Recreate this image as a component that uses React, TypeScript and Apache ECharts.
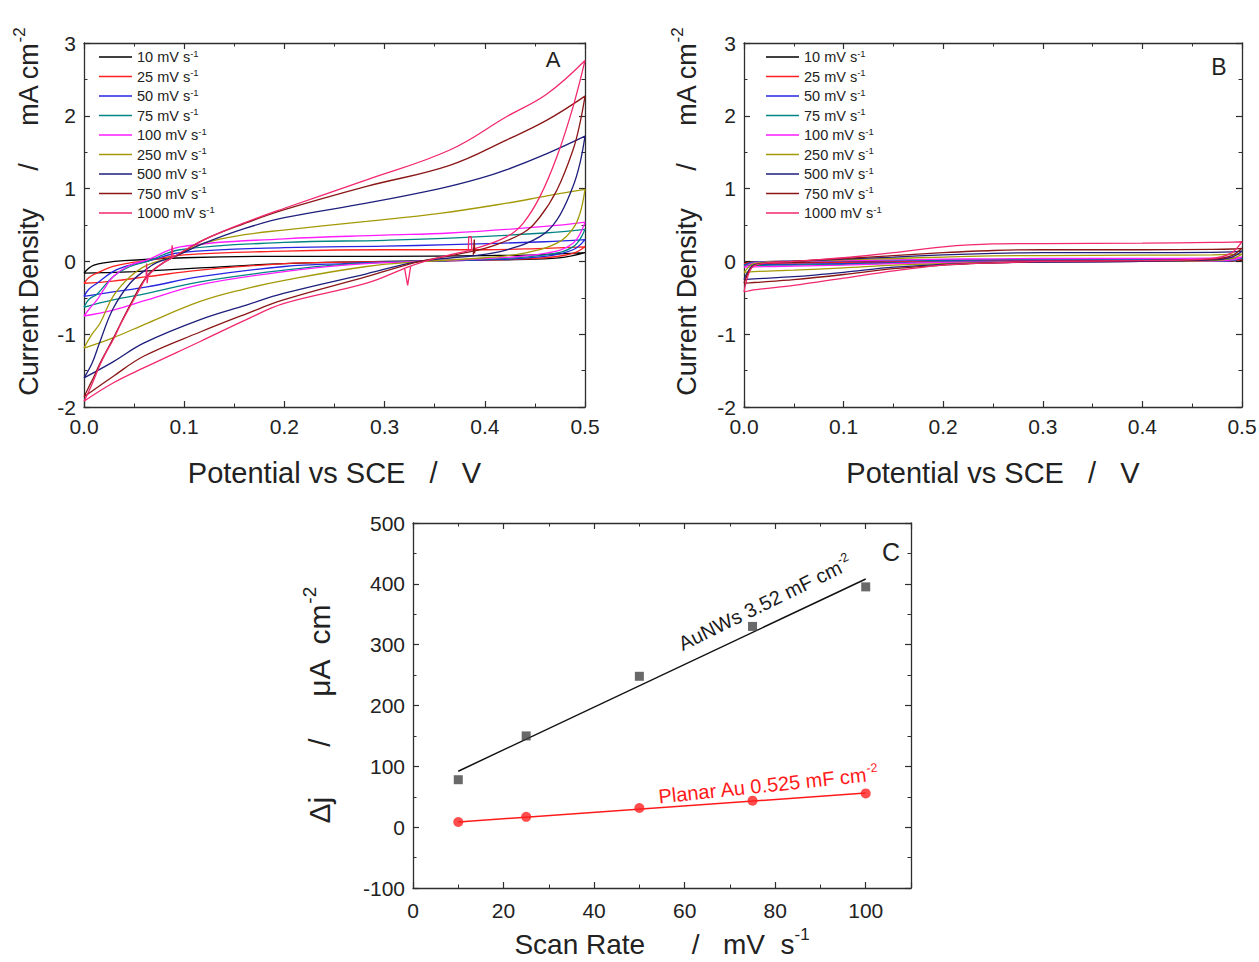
import React, { useEffect, useRef } from 'react';
import * as echarts from 'echarts';

const FONT = 'Arial, "Liberation Sans", Helvetica, sans-serif';
const INK = '#222222';
const AX = '#2e2e2e';

// ---------- Panel A & B: scan rates (mV/s) ----------
const scanRates = ['10', '25', '50', '75', '100', '250', '500', '750', '1000'];
const rateColors = ['#000000', '#ff2020', '#2626e0', '#008484', '#ff1cff', '#a49a08', '#1e1e7c', '#8a1616', '#f2286e'];

// Panel A: AuNWs CV loops [potential V, current density mA cm-2] (anodic then cathodic)
const cvA10 = [[0, -0.16], [0.005, -0.09], [0.01, -0.05], [0.02, -0.02], [0.04, 0.01], [0.1, 0.05], [0.2, 0.07], [0.3, 0.07], [0.4, 0.08], [0.45, 0.09], [0.5, 0.12],
  [0.48, 0.06], [0.45, 0.03], [0.4, 0.02], [0.3, 0.0], [0.2, -0.03], [0.116, -0.09], [0.05, -0.14], [0.02, -0.155], [0, -0.16]];
const cvA25 = [[0, -0.3], [0.005, -0.22], [0.013, -0.16], [0.029, -0.07], [0.046, -0.02], [0.063, 0.01], [0.1, 0.09], [0.2, 0.14], [0.3, 0.16], [0.4, 0.16], [0.46, 0.18], [0.5, 0.2],
  [0.488, 0.11], [0.46, 0.05], [0.4, 0.02], [0.33, 0.0], [0.26, -0.01], [0.2, -0.03], [0.116, -0.12], [0.063, -0.21], [0.029, -0.27], [0, -0.3]];
const cvA50 = [[0, -0.48], [0.005, -0.38], [0.013, -0.3], [0.029, -0.14], [0.046, -0.05], [0.063, 0.0], [0.096, 0.12], [0.2, 0.19], [0.3, 0.21], [0.365, 0.23], [0.46, 0.27], [0.5, 0.3],
  [0.488, 0.16], [0.46, 0.07], [0.4, 0.02], [0.33, 0.0], [0.26, -0.03], [0.2, -0.07], [0.116, -0.21], [0.063, -0.35], [0.029, -0.42], [0, -0.48]];
const cvA75 = [[0, -0.63], [0.005, -0.52], [0.013, -0.45], [0.029, -0.21], [0.046, -0.07], [0.063, 0.0], [0.096, 0.16], [0.2, 0.26], [0.3, 0.29], [0.365, 0.32], [0.46, 0.39], [0.5, 0.44],
  [0.488, 0.2], [0.46, 0.09], [0.4, 0.03], [0.33, 0.0], [0.26, -0.04], [0.2, -0.12], [0.116, -0.28], [0.063, -0.44], [0.029, -0.53], [0, -0.63]];
const cvA100 = [[0, -0.75], [0.006, -0.64], [0.013, -0.53], [0.02, -0.38], [0.029, -0.21], [0.046, -0.05], [0.063, 0.02], [0.096, 0.2], [0.2, 0.31], [0.3, 0.36], [0.365, 0.39], [0.46, 0.48], [0.5, 0.54],
  [0.488, 0.25], [0.46, 0.11], [0.4, 0.04], [0.33, 0.0], [0.26, -0.05], [0.2, -0.14], [0.116, -0.32], [0.063, -0.53], [0.029, -0.67], [0, -0.75]];
const cvA250 = [[0, -1.19], [0.008, -1.0], [0.016, -0.85], [0.029, -0.48], [0.046, -0.21], [0.063, -0.05], [0.09, 0.07], [0.12, 0.25], [0.162, 0.37], [0.199, 0.43], [0.282, 0.55], [0.355, 0.66], [0.422, 0.8], [0.462, 0.9], [0.5, 0.99],
  [0.495, 0.66], [0.488, 0.45], [0.472, 0.25], [0.438, 0.11], [0.4, 0.05], [0.34, 0.0], [0.282, -0.07], [0.2, -0.26], [0.16, -0.38], [0.116, -0.55], [0.063, -0.85], [0.029, -1.05], [0, -1.19]];
const cvA500 = [[0, -1.6], [0.008, -1.4], [0.016, -1.1], [0.029, -0.65], [0.046, -0.3], [0.063, -0.1], [0.072, -0.02], [0.091, 0.07], [0.12, 0.25], [0.16, 0.45], [0.2, 0.6], [0.282, 0.8], [0.355, 1.0], [0.395, 1.14], [0.422, 1.26], [0.462, 1.48], [0.5, 1.72],
  [0.495, 1.35], [0.488, 1.03], [0.472, 0.57], [0.455, 0.34], [0.422, 0.16], [0.39, 0.08], [0.335, 0.0], [0.282, -0.17], [0.199, -0.44], [0.162, -0.6], [0.116, -0.8], [0.06, -1.12], [0.029, -1.38], [0, -1.6]];
const cvA750 = [[0, -1.86], [0.005, -1.72], [0.01, -1.58], [0.016, -1.4], [0.029, -1.06], [0.046, -0.6], [0.063, -0.2], [0.079, -0.02], [0.091, 0.07], [0.12, 0.3], [0.16, 0.52], [0.2, 0.71], [0.282, 1.03], [0.365, 1.32], [0.422, 1.67], [0.462, 1.94], [0.5, 2.27],
  [0.495, 1.9], [0.488, 1.53], [0.472, 0.98], [0.455, 0.61], [0.438, 0.39], [0.405, 0.2], [0.385, 0.13], [0.362, 0.07], [0.335, 0.0], [0.282, -0.21], [0.199, -0.53], [0.162, -0.72], [0.116, -0.97], [0.06, -1.3], [0.029, -1.58], [0, -1.86]];
const cvA1000 = [[0, -1.92], [0.005, -1.78], [0.01, -1.62], [0.016, -1.42], [0.022, -1.25], [0.029, -1.08], [0.037, -0.85], [0.046, -0.62], [0.054, -0.42], [0.062, -0.23],
  [0.071, -0.1], [0.079, -0.02], [0.088, 0.05], [0.1, 0.15], [0.12, 0.3], [0.16, 0.53], [0.2, 0.73], [0.282, 1.12], [0.365, 1.53], [0.422, 1.99], [0.462, 2.3], [0.5, 2.76],
  [0.488, 2.12], [0.472, 1.44], [0.455, 0.89], [0.438, 0.52], [0.422, 0.34], [0.389, 0.17], [0.362, 0.08], [0.34, 0.0], [0.323, -0.08], [0.282, -0.3], [0.199, -0.58], [0.162, -0.8], [0.116, -1.1], [0.06, -1.46], [0.029, -1.67], [0, -1.92]];
const panelA = [cvA10, cvA25, cvA50, cvA75, cvA100, cvA250, cvA500, cvA750, cvA1000];

// Panel A: short electrical glitches seen on the fast scans [rate index, points]
const glitchRate = [8, 8, 8, 8, 7];
const glitch1 = [[0.062, -0.23], [0.0625, -0.03], [0.063, -0.3], [0.064, -0.2]];
const glitch2 = [[0.087, 0.04], [0.088, 0.22], [0.089, 0.05]];
const glitch3 = [[0.326, -0.07], [0.323, -0.33], [0.32, -0.1]];
const glitch4 = [[0.387, 0.16], [0.3865, 0.34], [0.384, 0.34], [0.3835, 0.15]];
const glitch5 = [[0.39, 0.11], [0.3895, 0.3], [0.3885, 0.09]];
const glitches = [glitch1, glitch2, glitch3, glitch4, glitch5];

// Panel B: planar Au CV loops, sampled on a common potential grid
const bPotential = [0, 0.01, 0.05, 0.1, 0.15, 0.2, 0.25, 0.3, 0.4, 0.47, 0.49, 0.5];
const bUp10 = [-0.02, -0.005, 0.0, 0.003, 0.005, 0.006, 0.007, 0.008, 0.008, 0.009, 0.01, 0.014];
const bDown10 = [-0.02, -0.018, -0.015, -0.012, -0.008, -0.005, -0.003, -0.001, 0.0, 0.001, 0.005, 0.014];
const bUp25 = [-0.03, -0.008, 0.0, 0.005, 0.008, 0.01, 0.012, 0.014, 0.015, 0.016, 0.018, 0.025];
const bDown25 = [-0.03, -0.028, -0.024, -0.018, -0.012, -0.007, -0.004, -0.002, 0.0, 0.002, 0.008, 0.025];
const bUp50 = [-0.05, -0.01, 0.0, 0.008, 0.012, 0.016, 0.02, 0.022, 0.024, 0.026, 0.03, 0.04];
const bDown50 = [-0.05, -0.045, -0.04, -0.03, -0.02, -0.01, -0.006, -0.003, 0.0, 0.003, 0.012, 0.04];
const bUp75 = [-0.06, -0.015, 0.0, 0.01, 0.015, 0.02, 0.025, 0.03, 0.03, 0.035, 0.04, 0.05];
const bDown75 = [-0.06, -0.055, -0.05, -0.04, -0.025, -0.012, -0.008, -0.004, 0.0, 0.004, 0.015, 0.05];
const bUp100 = [-0.08, -0.02, 0.0, 0.01, 0.02, 0.03, 0.035, 0.04, 0.04, 0.045, 0.05, 0.06];
const bDown100 = [-0.08, -0.075, -0.065, -0.05, -0.03, -0.015, -0.01, -0.005, 0.0, 0.005, 0.02, 0.06];
const bUp250 = [-0.15, -0.03, 0.0, 0.02, 0.04, 0.06, 0.075, 0.08, 0.085, 0.09, 0.095, 0.1];
const bDown250 = [-0.15, -0.14, -0.12, -0.09, -0.05, -0.03, -0.015, -0.005, 0.0, 0.01, 0.04, 0.1];
const bUp500 = [-0.25, -0.05, 0.0, 0.03, 0.06, 0.09, 0.11, 0.12, 0.12, 0.125, 0.13, 0.14];
const bDown500 = [-0.25, -0.24, -0.21, -0.15, -0.08, -0.04, -0.02, -0.01, 0.0, 0.02, 0.06, 0.14];
const bUp750 = [-0.3, -0.06, 0.0, 0.04, 0.08, 0.12, 0.15, 0.16, 0.16, 0.165, 0.17, 0.18];
const bDown750 = [-0.3, -0.29, -0.25, -0.18, -0.1, -0.05, -0.02, 0.0, 0.01, 0.03, 0.08, 0.18];
const bUp1000 = [-0.42, -0.06, 0.0, 0.05, 0.12, 0.2, 0.24, 0.245, 0.25, 0.26, 0.265, 0.27];
const bDown1000 = [-0.42, -0.39, -0.33, -0.23, -0.13, -0.05, -0.02, 0.0, 0.01, 0.04, 0.12, 0.27];
const panelBUp = [bUp10, bUp25, bUp50, bUp75, bUp100, bUp250, bUp500, bUp750, bUp1000];
const panelBDown = [bDown10, bDown25, bDown50, bDown75, bDown100, bDown250, bDown500, bDown750, bDown1000];

// Panel C: delta j vs scan rate
const cScanRate = [10, 25, 50, 75, 100];
const cAuNWs = [78, 150, 248, 330, 395];
const cPlanarAu = [8.5, 17, 31.5, 43.5, 55.5];
const cFitX = [10, 100];
const cAuNWsFit = [92, 408];
const cPlanarFit = [8.5, 56];

// Tick labels
const xTicksA = [0, 0.1, 0.2, 0.3, 0.4, 0.5];
const xTicksC = [0, 20, 40, 60, 80, 100];

function buildLoop(pot: number[], up: number[], down: number[]) {
  const out: number[][] = [];
  for (let i = 0; i < pot.length; i++) out.push([pot[i], up[i]]);
  for (let i = pot.length - 1; i >= 0; i--) out.push([pot[i], down[i]]);
  return out;
}

const titleRich = (size: number) => ({
  t: { fontSize: size, fontFamily: FONT, color: INK, lineHeight: size + 9 },
  s: { fontSize: Math.round(size * 0.62), fontFamily: FONT, color: INK, verticalAlign: 'top' },
});

const common = {
  axisLine: { show: true, onZero: false, lineStyle: { color: AX, width: 1.3 } },
  axisTick: { show: true, inside: true, length: 6, lineStyle: { color: AX, width: 1.2 } },
  minorTick: { show: true, splitNumber: 2, length: 3.5, lineStyle: { color: AX, width: 1 } },
  splitLine: { show: false },
  minorSplitLine: { show: false },
};

function axisPair(kind: 'x' | 'y', gridIndex: number, min: number, max: number, interval: number,
  fmt: ((v: number) => string) | undefined, name: string, nameGap: number, labelMargin: number, nameSize: number,
  namePadding: number[] = [0, 0, 0, 0]) {
  const main: any = {
    type: 'value', gridIndex, min, max, interval,
    position: kind === 'x' ? 'bottom' : 'left',
    ...common,
    axisLabel: { show: true, fontSize: 21, fontFamily: FONT, color: INK, margin: labelMargin, formatter: fmt, showMaxLabel: true },
    name, nameLocation: 'middle', nameGap,
    nameRotate: kind === 'y' ? 90 : 0,
    nameTextStyle: { fontFamily: FONT, color: INK, rich: titleRich(nameSize), padding: namePadding },
  };
  const mirror: any = {
    type: 'value', gridIndex, min, max, interval,
    position: kind === 'x' ? 'top' : 'right',
    ...common,
    axisLabel: { show: false },
  };
  return [main, mirror];
}

const fmtA = (v: number) => (xTicksA.some((t) => Math.abs(t - v) < 1e-9) ? v.toFixed(1) : '');
const fmtC = (v: number) => (xTicksC.includes(Math.round(v)) ? String(Math.round(v)) : '');

const legendRich = {
  t: { fontSize: 14.5, fontFamily: FONT, color: INK, lineHeight: 18 },
  s: { fontSize: 9.5, fontFamily: FONT, color: INK, verticalAlign: 'top' },
};

function makeLegend(left: number, top: number) {
  return {
    data: scanRates,
    orient: 'vertical',
    left, top,
    icon: 'rect',
    itemWidth: 33, itemHeight: 1.6, itemGap: 3,
    selectedMode: false,
    formatter: (n: string) => `{t|${n} mV s}{s|-1}`,
    textStyle: { fontFamily: FONT, color: INK, rich: legendRich },
    padding: 0,
  };
}

function buildOption() {
  const xTitleAB = '{t|Potential vs SCE   /   V}';
  const yTitleAB = '{t|Current Density     /     mA cm}{s|-2}';
  const xAxis = [
    ...axisPair('x', 0, 0, 0.5, 0.1, fmtA, xTitleAB, 47, 9, 29),
    ...axisPair('x', 1, 0, 0.5, 0.1, fmtA, xTitleAB, 47, 9, 29),
    ...axisPair('x', 2, 0, 110, 20, fmtC, '{t|Scan Rate      /   mV  s}{s|-1}', 38, 12, 28),
  ];
  const yAxis = [
    ...axisPair('y', 0, -2, 3, 1, undefined, yTitleAB, 37, 8, 27, [0, 0, 0, 26]),
    ...axisPair('y', 1, -2, 3, 1, undefined, yTitleAB, 39, 8, 27, [0, 0, 0, 26]),
    ...axisPair('y', 2, -100, 500, 100, undefined, '{t|Δj      /     μA  cm}{s|-2}', 74, 8, 30),
  ];

  const series: any[] = [];
  panelA.forEach((d, i) => {
    series.push({
      type: 'line', name: scanRates[i], xAxisIndex: 0, yAxisIndex: 0, data: d,
      symbol: 'none', showSymbol: false, smooth: 0.4, clip: true,
      lineStyle: { width: 1.3, color: rateColors[i] }, itemStyle: { color: rateColors[i] },
    });
  });
  glitches.forEach((g, k) => {
    const c = rateColors[glitchRate[k]];
    series.push({
      type: 'line', xAxisIndex: 0, yAxisIndex: 0, data: g,
      symbol: 'none', showSymbol: false, smooth: false, clip: true,
      lineStyle: { width: 1.3, color: c }, itemStyle: { color: c },
    });
  });
  panelBUp.forEach((up, i) => {
    series.push({
      type: 'line', name: scanRates[i], xAxisIndex: 2, yAxisIndex: 2, data: buildLoop(bPotential, up, panelBDown[i]),
      symbol: 'none', showSymbol: false, smooth: 0.3, clip: true,
      lineStyle: { width: 1.3, color: rateColors[i] }, itemStyle: { color: rateColors[i] },
    });
  });
  series.push({
    type: 'line', name: 'AuNWs fit', xAxisIndex: 4, yAxisIndex: 4,
    data: cFitX.map((x, i) => [x, cAuNWsFit[i]]), symbol: 'none',
    lineStyle: { width: 1.5, color: '#111' }, z: 2,
  });
  series.push({
    type: 'line', name: 'Planar fit', xAxisIndex: 4, yAxisIndex: 4,
    data: cFitX.map((x, i) => [x, cPlanarFit[i]]), symbol: 'none',
    lineStyle: { width: 1.5, color: '#ff1a1a' }, z: 2,
  });
  series.push({
    type: 'scatter', name: 'AuNWs', xAxisIndex: 4, yAxisIndex: 4,
    data: cScanRate.map((x, i) => [x, cAuNWs[i]]), symbol: 'rect', symbolSize: 9,
    itemStyle: { color: '#444444' }, z: 3,
  });
  series.push({
    type: 'scatter', name: 'Planar Au', xAxisIndex: 4, yAxisIndex: 4,
    data: cScanRate.map((x, i) => [x, cPlanarAu[i]]), symbol: 'circle', symbolSize: 10,
    itemStyle: { color: '#ff2020' }, z: 3,
  });

  const annoRich = (color: string) => ({
    t: { fontSize: 20, fontFamily: FONT, fill: color, lineHeight: 25 },
    s: { fontSize: 12.5, fontFamily: FONT, fill: color, verticalAlign: 'top' },
  });

  return {
    animation: false,
    backgroundColor: '#ffffff',
    grid: [
      { left: 84, top: 43, width: 501, height: 364, outerBoundsMode: 'none' },
      { left: 744, top: 43, width: 498, height: 364, outerBoundsMode: 'none' },
      { left: 413, top: 523, width: 498, height: 365, outerBoundsMode: 'none' },
    ],
    xAxis,
    yAxis,
    legend: [makeLegend(99, 48), makeLegend(766, 48)],
    series,
    graphic: [
      { type: 'text', x: 553, y: 59, style: { text: 'A', fontSize: 22, fontFamily: FONT, fill: INK, align: 'center', verticalAlign: 'middle' } },
      { type: 'text', x: 1219, y: 67, style: { text: 'B', fontSize: 23, fontFamily: FONT, fill: INK, align: 'center', verticalAlign: 'middle' } },
      { type: 'text', x: 891, y: 552, style: { text: 'C', fontSize: 25, fontFamily: FONT, fill: INK, align: 'center', verticalAlign: 'middle' } },
      {
        type: 'text', x: 765, y: 603, rotation: (26 * Math.PI) / 180,
        style: { text: '{t|AuNWs 3.52 mF cm}{s|-2}', rich: annoRich('#1a1a1a'), fill: '#1a1a1a', align: 'center', verticalAlign: 'middle' },
      },
      {
        type: 'text', x: 768, y: 785, rotation: (6 * Math.PI) / 180,
        style: { text: '{t|Planar Au 0.525 mF cm}{s|-2}', rich: annoRich('#ff1a1a'), fill: '#ff1a1a', align: 'center', verticalAlign: 'middle' },
      },
    ],
  };
}

export default function App() {
  const ref = useRef<HTMLDivElement>(null);
  useEffect(() => {
    if (!ref.current) return;
    const chart = echarts.init(ref.current, null, { renderer: 'svg' });
    chart.setOption(buildOption() as any);
    return () => chart.dispose();
  }, []);
  return (
    <div
      ref={ref}
      style={{ position: 'absolute', left: 0, top: 0, width: 1259, height: 962, background: '#fff' }}
    />
  );
}
